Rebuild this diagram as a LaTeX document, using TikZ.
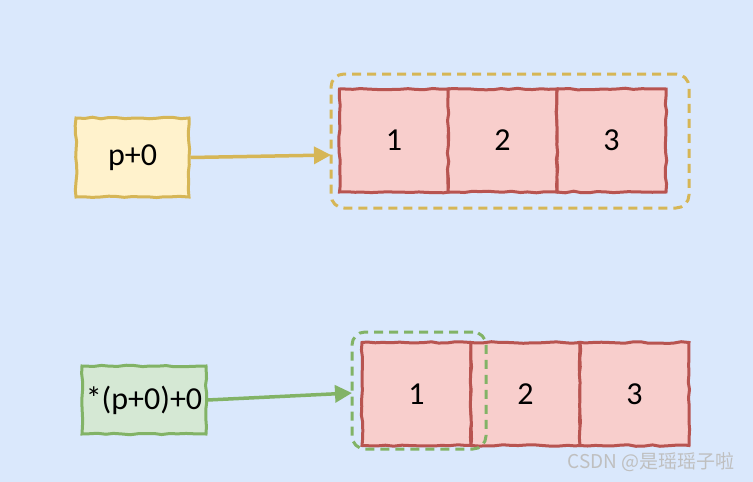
\documentclass[tikz,border=0pt]{standalone}
\usepackage{fontspec}
\setmainfont{Carlito}
\newfontfamily\cjk{Noto Sans CJK SC}
\usetikzlibrary{decorations.pathmorphing,arrows.meta}
\definecolor{bgc}{HTML}{DAE8FC}
\definecolor{yfill}{HTML}{FFF2CC}
\definecolor{ydraw}{HTML}{D6B656}
\definecolor{gfill}{HTML}{D5E8D4}
\definecolor{gdraw}{HTML}{82B366}
\definecolor{rfill}{HTML}{F8CECC}
\definecolor{rdraw}{HTML}{B85450}
\tikzset{
  sketchy/.style={decorate,decoration={random steps,segment length=8pt,amplitude=0.8pt}},
  lbl/.style={font=\fontsize{32}{34}\selectfont},
  ybox/.style={sketchy,draw=ydraw,fill=yfill,line width=3pt,minimum width=113pt,minimum height=79pt,inner sep=0pt,lbl},
  gbox/.style={sketchy,draw=gdraw,fill=gfill,line width=3pt,minimum width=124pt,minimum height=68pt,inner sep=0pt,lbl},
  cell/.style={sketchy,draw=rdraw,fill=rfill,line width=3pt,minimum width=109pt,minimum height=103pt,inner sep=0pt,lbl},
  ygroup/.style={draw=ydraw,line width=3pt,dash pattern=on 9pt off 6pt,rounded corners=13pt},
  ggroup/.style={draw=gdraw,line width=3pt,dash pattern=on 9pt off 6pt,rounded corners=13pt},
  yarrow/.style={draw=ydraw,line width=3.5pt,-{Triangle[length=17pt,width=17pt]}},
  garrow/.style={draw=gdraw,line width=3.5pt,-{Triangle[length=17pt,width=17pt]}},
}
\begin{document}
\begin{tikzpicture}[x=1pt,y=-1pt]
\pgfmathsetseed{7}
\fill[bgc] (0,0) rectangle (753,482);
\useasboundingbox (0,0) rectangle (753,482);
% top row
\node[ybox] (p) at (132.5,157.5) {p+0};
\node[cell] (a1) at (394,140.5) {1};
\node[cell] (a2) at (502.5,140.5) {2};
\node[cell] (a3) at (611.5,140.5) {3};
\node[ygroup,minimum width=358pt,minimum height=134pt] (ga) at (510,141) {};
\coordinate (ya) at (331,155);
\draw[yarrow] (p.east) -- (ya);
% bottom row
\node[gbox] (q) at (144,400) {*(p+0)+0};
\node[cell] (b1) at (416.5,394) {1};
\node[cell] (b2) at (525.5,394) {2};
\node[cell] (b3) at (634.5,394) {3};
\node[ggroup,minimum width=134pt,minimum height=117pt] (gb) at (419,390.5) {};
\coordinate (gaa) at (352,393);
\draw[garrow] (q.east) -- (gaa);
% watermark
\node[anchor=west,text=gray!50,font=\fontsize{19}{20}\selectfont\cjk] (wm) at (564,462) {CSDN @是瑶瑶子啦};
\end{tikzpicture}
\end{document}
